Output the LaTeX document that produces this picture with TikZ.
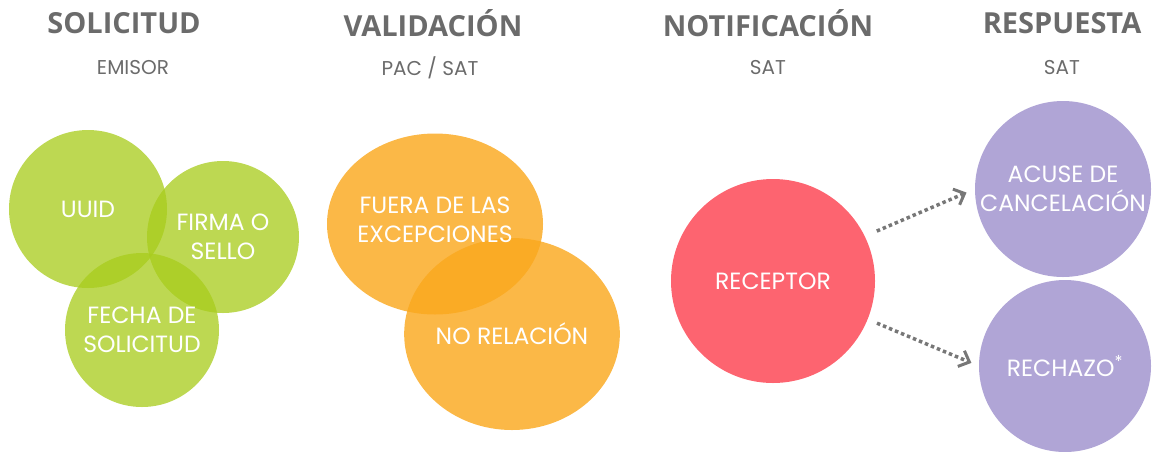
\documentclass[tikz,border=0pt]{standalone}
\usepackage{fontspec}
\setmainfont{Poppins}
\newfontfamily\titlefont{Open Sans}[BoldFont={* Bold}]
\usetikzlibrary{arrows.meta,shapes.geometric}
\definecolor{txtgray}{HTML}{6B6B6B}
\definecolor{arrgray}{HTML}{777777}
\definecolor{greenC}{RGB}{168,204,28}
\definecolor{orangeC}{RGB}{250,168,30}
\definecolor{redC}{HTML}{FD6470}
\definecolor{purpleC}{HTML}{B0A5D6}
\tikzset{
  title/.style={text=txtgray,font=\titlefont\bfseries\fontsize{29}{32}\selectfont,inner sep=0pt,anchor=center},
  subtitle/.style={text=txtgray,font=\fontsize{20}{24}\selectfont,inner sep=0pt,anchor=center},
  bubtext/.style={inner sep=0pt,text=white,align=center,font=\fontsize{23.5}{29}\selectfont},
  bubble/.style={circle,bubtext},
  gbub/.style={bubble,fill=greenC,fill opacity=0.76,text opacity=1,minimum size=#1},
  obub/.style={ellipse,bubtext,fill=orangeC,fill opacity=0.82,text opacity=1},
  dotarrow/.style={draw=arrgray,line width=3.5pt,dash pattern=on 3.5pt off 3pt,-{Straight Barb[length=9pt,width=17pt,line width=3pt]}}
}
\begin{document}
\begin{tikzpicture}[x=1pt,y=-1pt]
\useasboundingbox (0,0) rectangle (1153,451);
% titles
\node[title] (t1) at (124,23) {SOLICITUD};
\node[subtitle] (s1) at (133,68) {EMISOR};
\node[title] (t2) at (433,23) {VALIDACIÓN};
\node[subtitle] (s2) at (430,68) {PAC / SAT};
\node[title] (t3) at (768,23) {NOTIFICACIÓN};
\node[subtitle] (s3) at (768,68) {SAT};
\node[title] (t4) at (1062,23) {RESPUESTA};
\node[subtitle] (s4) at (1062,68) {SAT};
% green
\node[gbub=158pt] (uuid) at (88,209) {UUID};
\node[gbub=152pt] (firma) at (223,237) {FIRMA O\\SELLO};
\node[gbub=154pt] (fecha) at (142,330) {FECHA DE\\SOLICITUD};
% orange
\node[obub,minimum width=216pt,minimum height=181pt] (fuera) at (435,224) {};
\node[obub,minimum width=215pt,minimum height=192pt] (norel) at (512,334) {NO RELACIÓN};
\node[bubtext] (fueratxt) at (435,220) {FUERA DE LAS\\EXCEPCIONES};
% red
\node[bubble,fill=redC,minimum size=204pt] (rec) at (773,281) {RECEPTOR};
% purple
\node[bubble,fill=purpleC,minimum size=176pt] (acuse) at (1063,189) {ACUSE DE\\CANCELACIÓN};
\node[bubble,fill=purpleC,minimum size=172pt] (rech) at (1065,366) {RECHAZO\textsuperscript{*}};
% arrows
\draw[dotarrow,shorten <=13pt,shorten >=9pt] (rec.26) -- (acuse.180);
\draw[dotarrow,shorten <=10pt,shorten >=8pt] (rec.-22) -- (rech.180);
\end{tikzpicture}
\end{document}
